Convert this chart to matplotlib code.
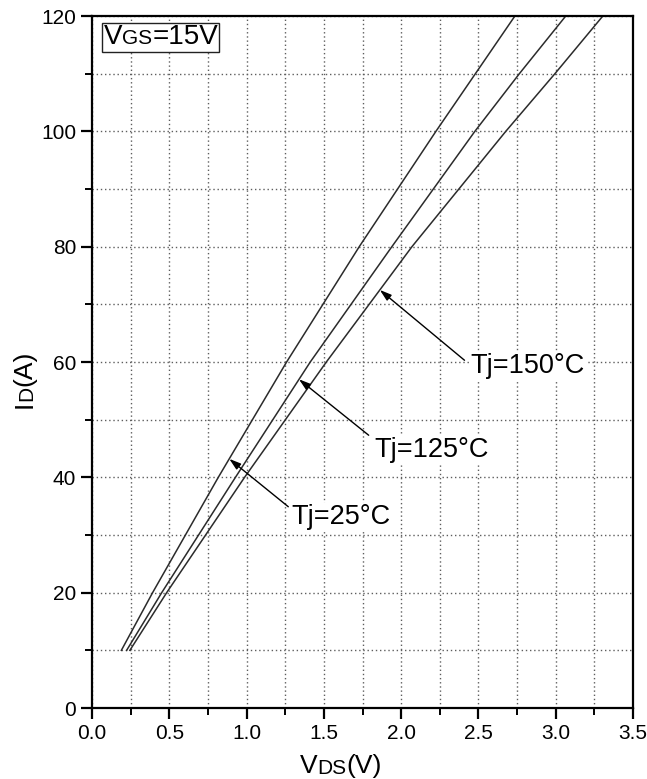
import numpy as np
import matplotlib.pyplot as plt
from matplotlib.ticker import MultipleLocator
from matplotlib.offsetbox import TextArea, HPacker, AnchoredOffsetbox

plt.rcParams['font.family'] = ['Liberation Sans', 'DejaVu Sans']

#%% -------- DATA ---------------------------------
id_25 = [10, 20, 40, 60, 80, 100, 120]
vds_25 = [0.19, 0.392, 0.817, 1.259, 1.729, 2.225, 2.736]

id_125 = [10, 20, 40, 60, 80, 100, 110, 120]
vds_125 = [0.224, 0.451, 0.928, 1.412, 1.94, 2.477, 2.765, 3.065]

id_150 = [10, 20, 40, 60, 80, 100, 110, 120]
vds_150 = [0.245, 0.483, 0.987, 1.516, 2.07, 2.677, 2.995, 3.305]

xticks = [0.0, 0.5, 1.0, 1.5, 2.0, 2.5, 3.0, 3.5]
yticks = [0, 20, 40, 60, 80, 100, 120]

#%% -------- FIGURE --------
fig = plt.figure(figsize=(6.47, 7.79), dpi=100)
ax = fig.add_axes([92/647, 71/779, 541/647, 692/779])

line_kw = dict(color='#2b2b2b', lw=1.1)
ax.plot(vds_25, id_25, **line_kw)
ax.plot(vds_125, id_125, **line_kw)
ax.plot(vds_150, id_150, **line_kw)

ax.set_xlim(0, 3.5)
ax.set_ylim(0, 120)
ax.set_xticks(xticks)
ax.set_xticklabels([f'{v:.1f}' for v in xticks])
ax.set_yticks(yticks)
ax.xaxis.set_minor_locator(MultipleLocator(0.25))
ax.yaxis.set_minor_locator(MultipleLocator(10))

grid_kw = dict(color='#5e5e5e', lw=1.0, ls=(0, (1, 2)))
ax.grid(True, which='both', **grid_kw)
ax.set_axisbelow(True)

ax.tick_params(which='major', direction='out', length=8, width=1.6,
               labelsize=15, pad=3.5, colors='black')
ax.tick_params(which='minor', direction='out', length=5, width=1.4)
for s in ax.spines.values():
    s.set_linewidth(1.6)

# -------- axis labels (small-caps style subscripts) --------
tv = ax.text(0.384, -0.094, 'V', transform=ax.transAxes, fontsize=19,
             ha='left', va='baseline')
tds = ax.annotate('DS', xy=(1, 0), xycoords=tv, fontsize=15,
                  ha='left', va='bottom')
ax.annotate('(V)', xy=(1, 0), xycoords=tds, fontsize=19,
            ha='left', va='bottom')

ti = ax.text(-0.103, 0.433, 'I', transform=ax.transAxes, fontsize=19,
             rotation=90, ha='right', va='bottom')
td = ax.annotate('D', xy=(1, 1), xycoords=ti, fontsize=15, rotation=90,
                 ha='right', va='bottom')
ax.annotate('(A)', xy=(1, 1), xycoords=td, fontsize=19, rotation=90,
            ha='right', va='bottom')

# -------- VGS box --------
box = HPacker(children=[TextArea('V', textprops=dict(fontsize=20)),
                        TextArea('GS', textprops=dict(fontsize=15)),
                        TextArea('=15V', textprops=dict(fontsize=20))],
              align='baseline', pad=0, sep=0)
anch = AnchoredOffsetbox(loc='upper left', child=box, pad=0.1, borderpad=0,
                         frameon=True, bbox_to_anchor=(0.019, 0.99),
                         bbox_transform=ax.transAxes)
anch.patch.set_linewidth(1.0)
anch.patch.set_edgecolor('#222222')
anch.patch.set_boxstyle('square', pad=0)
ax.add_artist(anch)

# -------- Tj annotations --------
arrow_kw = dict(arrowstyle='-|>,head_length=0.7,head_width=0.22',
                color='black', lw=1.0, shrinkA=0, shrinkB=0)
labels = [('Tj=25°C', (0.888, 43.2), (1.27, 34.9), (1.29, 33.1)),
          ('Tj=125°C', (1.339, 57.0), (1.79, 47.3), (1.83, 44.7)),
          ('Tj=150°C', (1.862, 72.5), (2.41, 60.3), (2.45, 59.3))]
for txt, tip, tail, pos in labels:
    ax.annotate('', xy=tip, xytext=tail, arrowprops=arrow_kw)
    ax.text(pos[0], pos[1], txt, fontsize=19.5, ha='left', va='center',
            bbox=dict(facecolor='white', edgecolor='none', pad=0.5))

fig.savefig('out.png', dpi=100)
